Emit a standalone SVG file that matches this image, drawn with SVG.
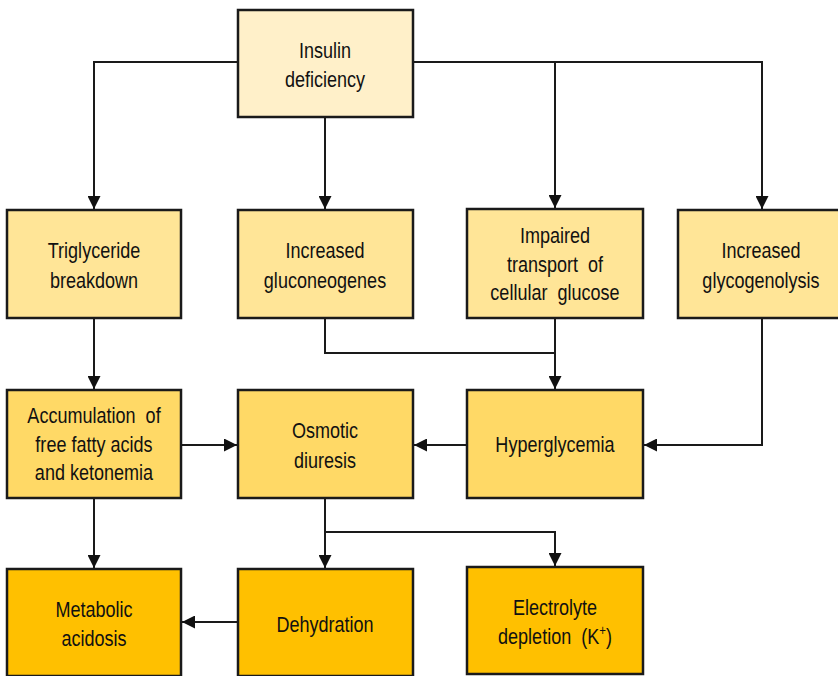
<svg xmlns="http://www.w3.org/2000/svg" width="838" height="676" viewBox="0 0 838 676">
<style>
.box{stroke:#1a1a1a;stroke-width:2.5}
.l0{fill:#FFF0C9}
.l1{fill:#FFE597}
.l2{fill:#FFD966}
.l3{fill:#FFC000}
text{font-family:"Liberation Sans",Arial,sans-serif;font-size:22px;fill:#111;text-anchor:middle}
.c{fill:none;stroke:#1a1a1a;stroke-width:2}
</style>
<defs>
<marker id="ah" markerUnits="userSpaceOnUse" markerWidth="14" markerHeight="13" refX="13" refY="6.5" orient="auto" viewBox="0 0 14 13">
<path d="M0,0 L13,6.5 L0,13 z" fill="#111"/>
</marker>
</defs>
<rect width="838" height="676" fill="#fff"/>
<g id="connectors">
<path class="c" d="M238,62 H94 V209" marker-end="url(#ah)"/>
<path class="c" d="M325,117 V209" marker-end="url(#ah)"/>
<path class="c" d="M413,62 H762 V209" marker-end="url(#ah)"/>
<path class="c" d="M555,62 V208" marker-end="url(#ah)"/>
<path class="c" d="M94,318 V389" marker-end="url(#ah)"/>
<path class="c" d="M325,318 V353 H555"/>
<path class="c" d="M555,318 V389" marker-end="url(#ah)"/>
<path class="c" d="M762,318 V445 H644" marker-end="url(#ah)"/>
<path class="c" d="M467,445 H414" marker-end="url(#ah)"/>
<path class="c" d="M181,445 H237" marker-end="url(#ah)"/>
<path class="c" d="M94,498 V568" marker-end="url(#ah)"/>
<path class="c" d="M325,498 V568" marker-end="url(#ah)"/>
<path class="c" d="M325,532 H555 V566" marker-end="url(#ah)"/>
<path class="c" d="M238,622 H182" marker-end="url(#ah)"/>
</g>
<g id="insulin">
<rect class="box l0" x="238" y="10" width="175" height="107"/>
<text transform="translate(325,58) scale(0.82,1)">Insulin</text>
<text transform="translate(325,87) scale(0.82,1)">deficiency</text>
</g>
<g id="triglyceride">
<rect class="box l1" x="7" y="210" width="174" height="108"/>
<text transform="translate(94,258) scale(0.82,1)">Triglyceride</text>
<text transform="translate(94,288) scale(0.82,1)">breakdown</text>
</g>
<g id="gluconeogenes">
<rect class="box l1" x="238" y="210" width="175" height="108"/>
<text transform="translate(325,258) scale(0.82,1)">Increased</text>
<text transform="translate(325,288) scale(0.82,1)">gluconeogenes</text>
</g>
<g id="impaired">
<rect class="box l1" x="467" y="209" width="176" height="109"/>
<text transform="translate(555,243) scale(0.82,1)">Impaired</text>
<text transform="translate(555,272) scale(0.82,1)" xml:space="preserve">transport  of</text>
<text transform="translate(555,300) scale(0.82,1)" xml:space="preserve">cellular  glucose</text>
</g>
<g id="glycogenolysis">
<rect class="box l1" x="678" y="210" width="175" height="108"/>
<text transform="translate(761,258) scale(0.82,1)">Increased</text>
<text transform="translate(761,288) scale(0.82,1)">glycogenolysis</text>
</g>
<g id="accumulation">
<rect class="box l2" x="7" y="390" width="174" height="108"/>
<text transform="translate(94,423) scale(0.82,1)" xml:space="preserve">Accumulation  of</text>
<text transform="translate(94,452) scale(0.82,1)">free fatty acids</text>
<text transform="translate(94,480) scale(0.82,1)">and ketonemia</text>
</g>
<g id="osmotic">
<rect class="box l2" x="238" y="390" width="175" height="108"/>
<text transform="translate(325,438) scale(0.82,1)">Osmotic</text>
<text transform="translate(325,468) scale(0.82,1)">diuresis</text>
</g>
<g id="hyperglycemia">
<rect class="box l2" x="467" y="390" width="176" height="108"/>
<text transform="translate(555,452) scale(0.82,1)">Hyperglycemia</text>
</g>
<g id="metabolic">
<rect class="box l3" x="7" y="569" width="174" height="107"/>
<text transform="translate(94,617) scale(0.82,1)">Metabolic</text>
<text transform="translate(94,646) scale(0.82,1)">acidosis</text>
</g>
<g id="dehydration">
<rect class="box l3" x="238" y="569" width="175" height="107"/>
<text transform="translate(325,632) scale(0.82,1)">Dehydration</text>
</g>
<g id="electrolyte">
<rect class="box l3" x="467" y="567" width="176" height="107"/>
<text transform="translate(555,615) scale(0.82,1)">Electrolyte</text>
<text transform="translate(555,644) scale(0.82,1)" xml:space="preserve">depletion  (K<tspan font-size="14" dy="-9">+</tspan><tspan dy="9">)</tspan></text>
</g>
</svg>
